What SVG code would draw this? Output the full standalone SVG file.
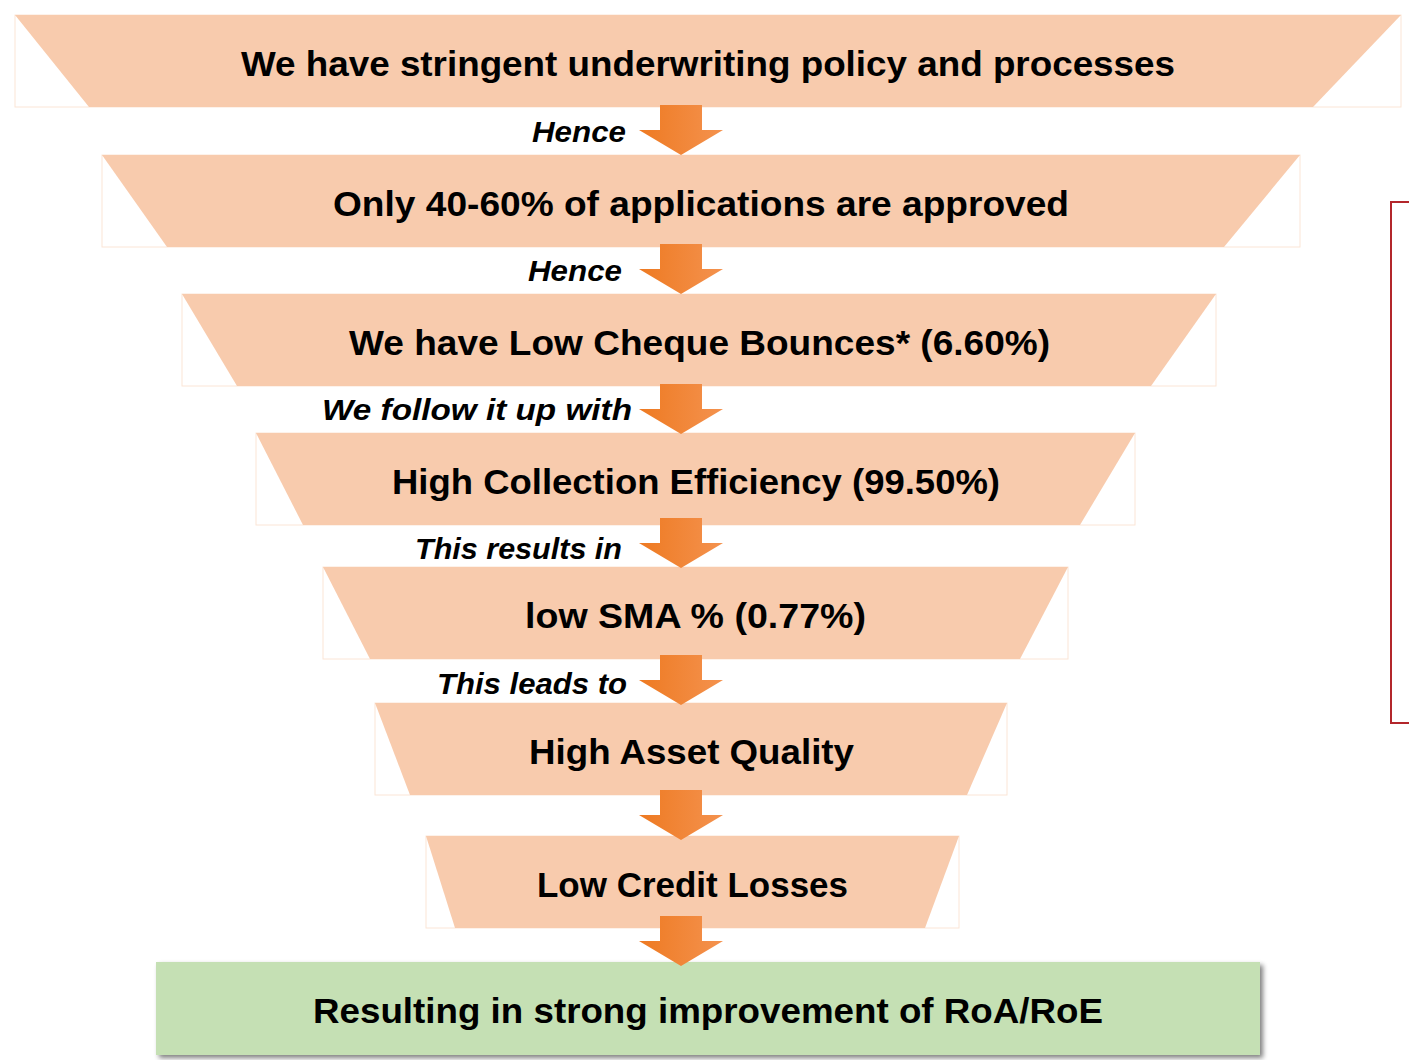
<svg xmlns="http://www.w3.org/2000/svg" width="1409" height="1060" viewBox="0 0 1409 1060">
<style>
.frame{fill:#ffffff;stroke:#fbe5d6;stroke-width:1}
.trap{fill:#f8cbad}
.main{font-family:"Liberation Sans",Arial,sans-serif;font-weight:bold;font-size:35px;fill:#000}
.lbl{font-family:"Liberation Sans",Arial,sans-serif;font-weight:bold;font-style:italic;font-size:30px;fill:#000}
.arr{fill:url(#ag)}
</style>
<defs>
<linearGradient id="ag" x1="0" y1="0" x2="1" y2="0">
<stop offset="0" stop-color="#ee7a22"/>
<stop offset="1" stop-color="#f4924e"/>
</linearGradient>
<filter id="sh" x="-5%" y="-20%" width="110%" height="150%">
<feGaussianBlur in="SourceAlpha" stdDeviation="2.5"/>
<feOffset dx="3" dy="3" result="b"/>
<feComponentTransfer><feFuncA type="linear" slope="0.5"/></feComponentTransfer>
<feMerge><feMergeNode/><feMergeNode in="SourceGraphic"/></feMerge>
</filter>
<path id="arrow" d="M-21,0 H21 V25 H42 L0,50 L-42,25 H-21 Z"/>
</defs>

<g id="n1">
<rect class="frame" x="15" y="15" width="1386" height="92"/>
<polygon class="trap" points="15,15 1401,15 1313,107 89,107"/>
<text class="main" x="241" y="76" textLength="934" lengthAdjust="spacingAndGlyphs">We have stringent underwriting policy and processes</text>
</g>
<g id="n2">
<rect class="frame" x="102" y="155" width="1198" height="92"/>
<polygon class="trap" points="102,155 1300,155 1224,247 167,247"/>
<text class="main" x="333" y="216" textLength="736" lengthAdjust="spacingAndGlyphs">Only 40-60% of applications are approved</text>
</g>
<g id="n3">
<rect class="frame" x="182" y="294" width="1034" height="92"/>
<polygon class="trap" points="182,294 1216,294 1151,386 237,386"/>
<text class="main" x="349" y="355" textLength="701" lengthAdjust="spacingAndGlyphs">We have Low Cheque Bounces* (6.60%)</text>
</g>
<g id="n4">
<rect class="frame" x="256" y="433" width="879" height="92"/>
<polygon class="trap" points="256,433 1135,433 1080,525 303,525"/>
<text class="main" x="392" y="494" textLength="608" lengthAdjust="spacingAndGlyphs">High Collection Efficiency (99.50%)</text>
</g>
<g id="n5">
<rect class="frame" x="323" y="567" width="745" height="92"/>
<polygon class="trap" points="323,567 1068,567 1020,659 370,659"/>
<text class="main" x="525" y="628" textLength="341" lengthAdjust="spacingAndGlyphs">low SMA % (0.77%)</text>
</g>
<g id="n6">
<rect class="frame" x="375" y="703" width="632" height="92"/>
<polygon class="trap" points="375,703 1007,703 967,795 410,795"/>
<text class="main" x="529" y="764" textLength="325" lengthAdjust="spacingAndGlyphs">High Asset Quality</text>
</g>
<g id="n7">
<rect class="frame" x="426" y="836" width="533" height="92"/>
<polygon class="trap" points="426,836 959,836 925,928 455,928"/>
<text class="main" x="537" y="897" textLength="311" lengthAdjust="spacingAndGlyphs">Low Credit Losses</text>
</g>
<g id="n8">
<rect x="156" y="962" width="1104" height="93" fill="#c5e0b4" filter="url(#sh)"/>
<text class="main" x="313" y="1023" textLength="790" lengthAdjust="spacingAndGlyphs">Resulting in strong improvement of RoA/RoE</text>
</g>
<g id="bracket">
<polyline points="1409,202 1391,202 1391,723 1409,723" fill="none" stroke="#b3262b" stroke-width="2"/>
</g>

<g id="connectors">
<use href="#arrow" class="arr" x="681" y="105"/>
<use href="#arrow" class="arr" x="681" y="244"/>
<use href="#arrow" class="arr" x="681" y="384"/>
<use href="#arrow" class="arr" x="681" y="518"/>
<use href="#arrow" class="arr" x="681" y="655"/>
<use href="#arrow" class="arr" x="681" y="790"/>
<use href="#arrow" class="arr" x="681" y="916"/>
<text class="lbl" x="626" y="142" text-anchor="end" textLength="94" lengthAdjust="spacingAndGlyphs">Hence</text>
<text class="lbl" x="622" y="281" text-anchor="end" textLength="94" lengthAdjust="spacingAndGlyphs">Hence</text>
<text class="lbl" x="632" y="420" text-anchor="end" textLength="310" lengthAdjust="spacingAndGlyphs">We follow it up with</text>
<text class="lbl" x="622" y="559" text-anchor="end" textLength="207" lengthAdjust="spacingAndGlyphs">This results in</text>
<text class="lbl" x="627" y="694" text-anchor="end" textLength="190" lengthAdjust="spacingAndGlyphs">This leads to</text>
</g>
</svg>
